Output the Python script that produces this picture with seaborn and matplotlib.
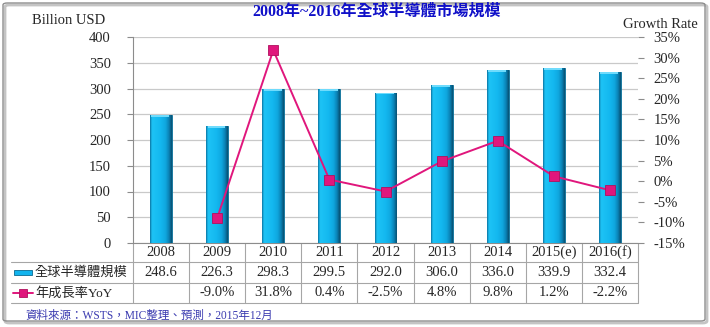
import numpy as np
import pandas as pd
import matplotlib
matplotlib.use("Agg")
import matplotlib.pyplot as plt
import seaborn as sns
from matplotlib.colors import LinearSegmentedColormap
from matplotlib.patches import FancyBboxPatch, Rectangle
from matplotlib.lines import Line2D

# ---- data ----
years = ["2008", "2009", "2010", "2011", "2012", "2013", "2014", "2015(e)", "2016(f)"]
market = [248.6, 226.3, 298.3, 299.5, 292.0, 306.0, 336.0, 339.9, 332.4]
yoy = [np.nan, -9.0, 31.8, 0.4, -2.5, 4.8, 9.8, 1.2, -2.2]
market_labels = ["248.6", "226.3", "298.3", "299.5", "292.0", "306.0", "336.0", "339.9", "332.4"]
yoy_labels = ["", "-9.0%", "31.8%", "0.4%", "-2.5%", "4.8%", "9.8%", "1.2%", "-2.2%"]
left_ticks = [0, 50, 100, 150, 200, 250, 300, 350, 400]
right_ticks = [-15, -10, -5, 0, 5, 10, 15, 20, 25, 30, 35]
title = "2008年~2016年全球半導體市場規模"
series_bar = "全球半導體規模"
series_line = "年成長率YoY"
source = "資料來源：WSTS，MIC整理、預測，2015年12月"

sns.set_style("white")
FAM = ["Liberation Serif", "Noto Sans CJK TC", "DejaVu Sans"]
plt.rcParams["font.family"] = FAM

BAR = "#12B4EE"
LINE = "#E0167C"
GRID = "#C9C9C9"
AX = "#8C8C8C"

fig = plt.figure(figsize=(7.10, 3.27), dpi=100)
W, H = 710, 327
L, R, T, B = 133, 638, 37, 243
ax = fig.add_axes([L / W, 1 - B / H, (R - L) / W, (B - T) / H])

df = pd.DataFrame({"year": years, "market": market, "yoy": yoy})
sns.barplot(data=df, x="year", y="market", ax=ax, color=BAR, width=0.39,
            edgecolor="#0B6A92", linewidth=0.6, zorder=3, saturation=1)

# 3D-ish gradient on bars
cmap = LinearSegmentedColormap.from_list(
    "cyl", [(0.0, "#0B6E9C"), (0.08, "#1EC4F6"), (0.5, "#13B7EF"),
            (0.72, "#0FA6DE"), (0.88, "#0A80B3"), (1.0, "#074F70")])
grad = np.linspace(0, 1, 64).reshape(1, -1)
for p in list(ax.patches):
    x0, y0 = p.get_x(), p.get_y()
    w, h = p.get_width(), p.get_height()
    im = ax.imshow(grad, cmap=cmap, aspect="auto", extent=(x0, x0 + w, y0, y0 + h),
                   zorder=3.5, interpolation="bicubic")
    im.set_clip_path(p)
    cap = Rectangle((x0 + w * 0.06, y0 + h - 3.5), w * 0.82, 3.5, facecolor="#6FDBFC",
                    edgecolor="none", zorder=3.6)
    ax.add_patch(cap)

ax.set_xlim(-0.5, 8.5)
ax.set_ylim(0, 400)
ax.set_yticks(left_ticks)
ax.set_yticklabels([str(v) for v in left_ticks], fontsize=10.5)
ax.set_xticks([])
ax.set_xlabel("")
ax.set_ylabel("")
ax.yaxis.grid(True, color=GRID, linewidth=0.9, zorder=0)
ax.set_axisbelow(True)
for s in ["top", "right"]:
    ax.spines[s].set_visible(False)
ax.spines["left"].set_color(AX)
ax.spines["bottom"].set_color(AX)
ax.spines["left"].set_linewidth(0.8)
ax.spines["bottom"].set_linewidth(0.8)
ax.tick_params(axis="y", direction="out", length=4, width=0.8, color=AX, pad=12)

ax2 = ax.twinx()
sns.lineplot(x=np.arange(len(years)), y=df["yoy"].values, ax=ax2, color=LINE,
             linewidth=1.4, marker="s", markersize=7, markerfacecolor=LINE,
             markeredgecolor="#B0105E", markeredgewidth=0.6, zorder=5)
ax2.set_ylim(-15, 35)
ax2.set_yticks(right_ticks)
ax2.set_yticklabels([f"{v}%" for v in right_ticks], fontsize=10.5)
ax2.set_xlim(-0.5, 8.5)
for s in ["top", "left", "right", "bottom"]:
    ax2.spines[s].set_visible(False)
ax2.tick_params(axis="y", direction="out", length=4, width=0.8, color=AX, pad=7)
ax2.set_ylabel("")

# ---- data table ----
tr = ax.get_xaxis_transform()
def ay(py):
    return -(py - B) / (B - T)

row_lines = [262, 283, 303]
x_left_axes = (11 - L) / (R - L)
for py in row_lines:
    ax.add_line(Line2D([x_left_axes, 1], [ay(py), ay(py)], transform=ax.transAxes,
                       color="#A6A6A6", linewidth=0.8, clip_on=False))
for i in range(len(years) + 1):
    ax.add_line(Line2D([i - 0.5, i - 0.5], [0, ay(303)], transform=tr,
                       color="#A6A6A6", linewidth=0.8, clip_on=False))

for i, (yr, mv, yv) in enumerate(zip(years, market_labels, yoy_labels)):
    ax.text(i, ay(252), yr, transform=tr, ha="center", va="center", fontsize=10.5, clip_on=False)
    ax.text(i, ay(272.5), mv, transform=tr, ha="center", va="center", fontsize=10.5, clip_on=False)
    if yv:
        ax.text(i, ay(293), yv, transform=tr, ha="center", va="center", fontsize=10.5, clip_on=False)

# legend keys in table
fig.patches.append(Rectangle((14 / W, 1 - 275 / H), 18 / W, 5 / H, transform=fig.transFigure,
                             facecolor=BAR, edgecolor="#0B6A92", linewidth=0.6))
fig.lines.append(Line2D([13 / W, 33 / W], [1 - 293 / H, 1 - 293 / H], transform=fig.transFigure,
                        color=LINE, linewidth=1.4))
fig.lines.append(Line2D([23 / W], [1 - 293 / H], transform=fig.transFigure, color=LINE,
                        marker="s", markersize=6, markerfacecolor=LINE, markeredgecolor="#B0105E",
                        markeredgewidth=0.6))
fig.text(35 / W, 1 - 272.5 / H, series_bar, ha="left", va="center", fontsize=9.5, family=FAM)
fig.text(35 / W, 1 - 293 / H, series_line, ha="left", va="center", fontsize=9.5, family=FAM)

# ---- titles & labels ----
fig.text(377 / W, 1 - 12 / H, title, ha="center", va="center", fontsize=11.5,
         fontweight="bold", color="#1010C8", family=FAM)
fig.text(69 / W, 1 - 20 / H, "Billion USD", ha="center", va="center", fontsize=10.5)
fig.text(660 / W, 1 - 24 / H, "Growth Rate", ha="center", va="center", fontsize=10.5)
fig.text(25 / W, 1 - 316 / H, source, ha="left", va="center", fontsize=8.3,
         color="#3B3BB0", family=FAM)

# outer frame with shadow
fig.patches.append(FancyBboxPatch((5 / W, 1 - 323 / H), 702 / W, 318 / H,
                                  boxstyle="round,pad=0,rounding_size=0.006",
                                  transform=fig.transFigure, facecolor="none",
                                  edgecolor="#C4C4C4", linewidth=2.0, zorder=-1))
fig.patches.append(FancyBboxPatch((3 / W, 1 - 321 / H), 702 / W, 318 / H,
                                  boxstyle="round,pad=0,rounding_size=0.006",
                                  transform=fig.transFigure, facecolor="none",
                                  edgecolor="#8E8E8E", linewidth=1.0, zorder=0))

fig.savefig("out.png", dpi=100)
